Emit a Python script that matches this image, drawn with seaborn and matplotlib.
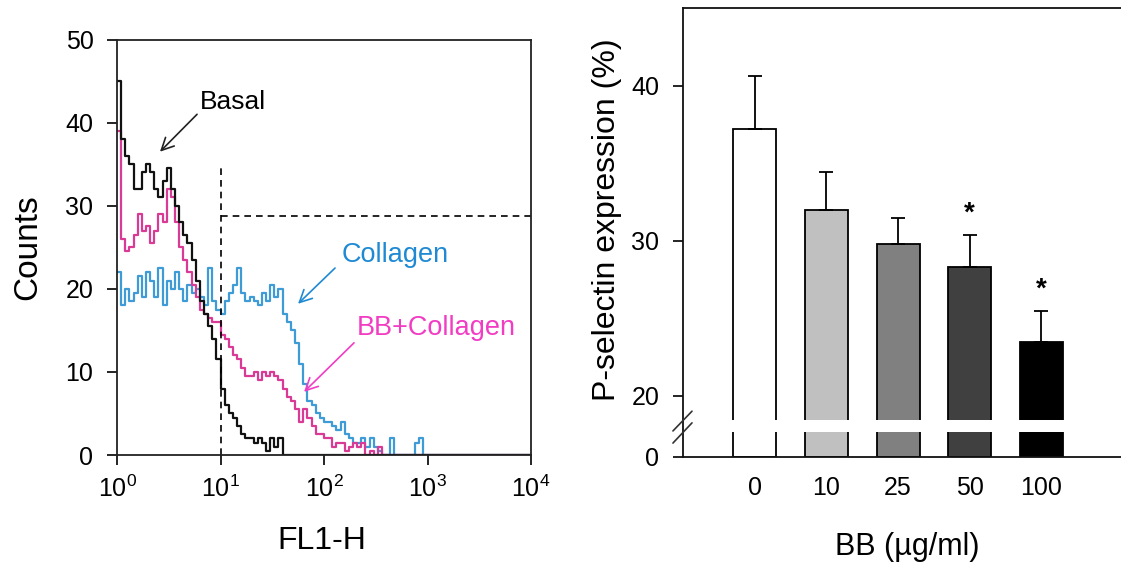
import numpy as np
import pandas as pd
import matplotlib
matplotlib.use('Agg')
import matplotlib.pyplot as plt
import seaborn as sns

# DATA
# left panel: FL1-H histograms, channels of 0.04 decades starting at 10^0
bin_width = 0.04
n_bins = 100
basal = [45, 38, 36, 35, 32, 32, 34, 35, 34, 32,
         31, 33, 34.5, 32, 30, 28, 26.5, 25.5, 23.5, 21,
         18.5, 17, 15.5, 14, 11.5, 8, 6, 5, 4.5, 3.5,
         2.5, 2, 2, 1.5, 2, 1.5, 0.5, 2, 1, 2]
collagen = [22, 18, 20, 18.5, 19.5, 21.5, 19, 22, 21, 19,
            22.5, 18, 21, 20, 22, 20, 18.5, 20.5, 19.5, 20,
            19, 18, 22.5, 18.5, 17.5, 17, 18.5, 19.5, 20.5, 22.5,
            19.5, 18.5, 19, 18.5, 18, 19.5, 18.5, 20.5, 19, 20,
            17, 16, 15, 13.5, 11, 8.5, 6.5, 6, 5, 4.5,
            4, 4, 3.5, 3, 4, 2.5, 2, 1.5, 1.5, 2,
            1, 2, 1, 0.5, 0, 0, 2, 0, 0, 0,
            0, 0, 1.5, 2]
bb_collagen = [39, 26, 24.5, 25, 26.5, 29, 27, 27.5, 25.5, 27,
               29, 28, 32, 31, 28, 25, 23.5, 22, 20.5, 19,
               17.5, 17, 16.5, 16, 16, 14.5, 14, 13, 12, 11.5,
               10.5, 9.5, 9.5, 10, 9, 10, 9.5, 10, 9.5, 9,
               8, 7, 6.5, 5.5, 4, 5.5, 4.5, 3.5, 2.5, 2.5,
               2, 2, 1, 1.5, 1.5, 0.5, 1, 1.5, 1, 1.5,
               0, 0.5, 0, 1]
samples = ['Collagen', 'BB+Collagen', 'Basal']
sample_colors = ['#3f9bd6', '#d93a95', '#111111']
gate_x = 10
gate_top = 34.8
gate_y = 28.8

# right panel: P-selectin expression
doses = ['0', '10', '25', '50', '100']
pselectin = [37.2, 32.0, 29.8, 28.3, 23.5]
pselectin_sem = [3.4, 2.4, 1.65, 2.05, 1.95]
significant = [False, False, False, True, True]
bar_colors = ['#ffffff', '#c0c0c0', '#808080', '#404040', '#000000']
axis_break = 18.45


def padCounts(values):
    counts = np.zeros(n_bins)
    counts[:len(values)] = values
    return counts


def histFrame():
    edges = 10 ** (np.arange(n_bins + 1) * bin_width)
    frames = []
    for name, values in zip(['Basal', 'Collagen', 'BB+Collagen'], [basal, collagen, bb_collagen]):
        counts = padCounts(values)
        frames.append(pd.DataFrame({
            'fl1': edges,
            'count': np.append(counts, 0),
            'sample': name,
        }))
    return pd.concat(frames, ignore_index=True)


# piecewise scale for the broken y axis (lower part squeezed)
def fwd(v):
    v = np.asarray(v, dtype=float)
    return np.where(v < axis_break, v * 37 / axis_break / 15.5, 37 / 15.5 + (v - axis_break))


def inv(d):
    d = np.asarray(d, dtype=float)
    return np.where(d < 37 / 15.5, d * 15.5 * axis_break / 37, axis_break + (d - 37 / 15.5))


sns.set_style('ticks')
plt.rcParams['font.family'] = ['Liberation Sans', 'DejaVu Sans']
plt.rcParams['mathtext.fontset'] = 'custom'
plt.rcParams['mathtext.rm'] = 'Liberation Sans'
plt.rcParams['mathtext.it'] = 'Liberation Sans:italic'
plt.rcParams['mathtext.bf'] = 'Liberation Sans:bold'
plt.rcParams['text.color'] = 'black'
plt.rcParams['axes.labelcolor'] = 'black'
plt.rcParams['xtick.color'] = 'black'
plt.rcParams['ytick.color'] = 'black'

fig = plt.figure(figsize=(11.21, 5.63), dpi=100)
ax1 = fig.add_axes([0.1044, 0.1918, 0.3693, 0.7380])
ax2 = fig.add_axes([0.6093, 0.1883, 0.3907, 0.7975])

# LEFT PANEL
df = histFrame()
sns.lineplot(
    data=df, x='fl1', y='count', hue='sample',
    hue_order=samples, palette=sample_colors,
    drawstyle='steps-post', estimator=None, sort=False,
    linewidth=1.6, legend=False, ax=ax1,
)
ax1.set_xscale('log')
ax1.set_xlim(1, 1e4)
ax1.set_ylim(0, 50)
ax1.set_xticks([1, 10, 100, 1000, 10000])
ax1.set_yticks([0, 10, 20, 30, 40, 50])
ax1.minorticks_off()
ax1.tick_params(axis='both', direction='out', length=7, width=1.2, labelsize=18, labelcolor='black')
ax1.tick_params(axis='y', pad=10)
ax1.tick_params(axis='x', pad=8)
for s in ax1.spines.values():
    s.set_color('#222222')
    s.set_linewidth(1.3)

ax1.plot([gate_x, gate_x], [0, gate_top], ls=(0, (4, 3)), color='black', lw=1.2)
ax1.plot([gate_x, 1e4], [gate_y, gate_y], ls=(0, (4, 3)), color='black', lw=1.2)

ax1.set_xlabel('FL1-H', fontsize=23)
ax1.set_ylabel('Counts', fontsize=24)
ax1.xaxis.set_label_coords(0.495, -0.171)
ax1.yaxis.set_label_coords(-0.179, 0.5)

arrow = dict(arrowstyle='->', mutation_scale=22, lw=1.2, shrinkA=0, shrinkB=0)
ax1.annotate('', xy=(2.60, 36.5), xytext=(5.93, 41.0), arrowprops=dict(arrow, color='#222222'))
ax1.text(6.34, 42.5, 'Basal', color='black', fontsize=19, ha='left', va='center')
ax1.annotate('', xy=(56.1, 18.2), xytext=(127.7, 22.5), arrowprops=dict(arrow, color='#1f8ad3'))
ax1.text(149.3, 24.1, 'Collagen', color='#1f8ad3', fontsize=19.5, ha='left', va='center')
ax1.annotate('', xy=(64.1, 7.6), xytext=(195, 13.5), arrowprops=dict(arrow, color='#f23cc3'))
ax1.text(208.4, 15.3, 'BB+Collagen', color='#f23cc3', fontsize=19.5, ha='left', va='center')

# RIGHT PANEL
sns.barplot(
    x=doses, y=pselectin, hue=doses, palette=bar_colors,
    edgecolor='black', linewidth=1.3, width=0.6, legend=False, ax=ax2,
)
ax2.errorbar(
    range(len(doses)), pselectin, yerr=[np.zeros(len(doses)), pselectin_sem],
    fmt='none', ecolor='black', elinewidth=1.3, capsize=5, capthick=1.3,
)
for i, sig in enumerate(significant):
    if sig:
        ax2.text(i, pselectin[i] + pselectin_sem[i] + 1.4, '*', ha='center', va='center',
                 fontsize=20, fontweight='bold', color='black')

ax2.set_yscale('function', functions=(fwd, inv))
ax2.set_ylim(0, 45)
ax2.set_xlim(-1.0, 5.11)
ax2.set_yticks([0, 20, 30, 40])
ax2.set_yticklabels(['0', '20', '30', '40'])
ax2.minorticks_off()
ax2.tick_params(axis='y', direction='out', length=7, width=1.2, labelsize=18, pad=10, labelcolor='black')
ax2.tick_params(axis='x', length=0, labelsize=18, pad=14, labelcolor='black')
ax2.spines['right'].set_visible(False)
for s in ax2.spines.values():
    s.set_color('#111111')
    s.set_linewidth(1.3)

# white gap of the broken axis and the // marks
ax2.axhspan(12.45, axis_break, color='white', lw=0, zorder=2.3)
ax2.plot([-0.023, 0.0205], [0.058, 0.102], transform=ax2.transAxes, color='#333333',
         lw=1.2, clip_on=False, zorder=4)
ax2.plot([-0.023, 0.0205], [0.031, 0.076], transform=ax2.transAxes, color='#333333',
         lw=1.2, clip_on=False, zorder=4)

ax2.set_xlabel('BB (µg/ml)', fontsize=22)
ax2.set_ylabel('P-selectin expression (%)', fontsize=23)
ax2.xaxis.set_label_coords(0.511, -0.167)
ax2.yaxis.set_label_coords(-0.139, 0.528)

plt.savefig('out.png', dpi=100)
plt.close()
